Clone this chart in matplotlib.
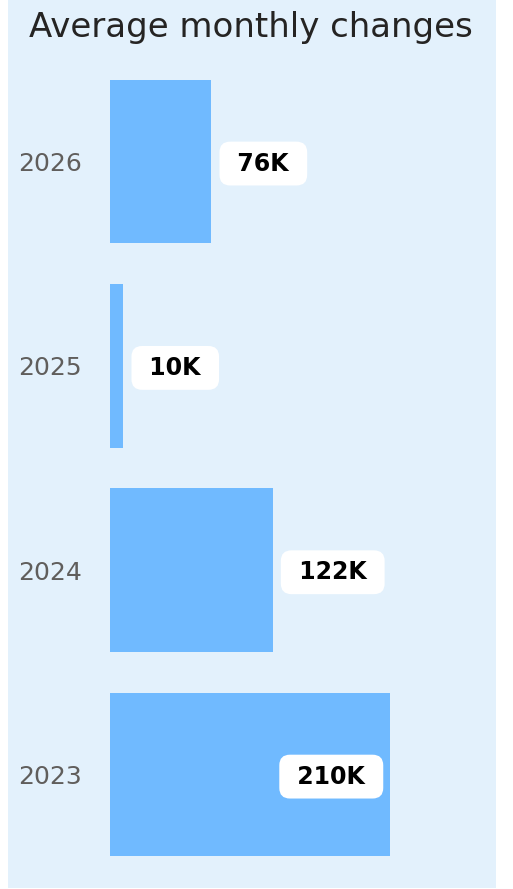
import matplotlib
matplotlib.use('Agg')
import matplotlib.pyplot as plt
from matplotlib.patches import Rectangle

years = ['2023', '2024', '2025', '2026']
changes_k = [210, 122, 10, 76]
labels = ['210K', '122K', '10K', '76K']

W, H = 513, 889
fig = plt.figure(figsize=(W / 100, H / 100), dpi=100)
fig.patch.set_facecolor('white')

# light blue card behind everything
card = Rectangle((8 / W, 1 - 888 / H), 488 / W, 888 / H,
                 transform=fig.transFigure, facecolor='#E3F1FC',
                 edgecolor='none', zorder=-10)
fig.add_artist(card)

fig.text(251 / W, 1 - 28 / H, 'Average monthly changes', ha='center', va='center',
         fontsize=24.5, color='#252423')

ax = fig.add_axes([110 / W, 1 - 876.7 / H, 380 / W, 817.4 / H])
ax.set_zorder(5)
ax.set_facecolor('none')
bars = ax.barh(range(len(years)), changes_k, height=0.8, color='#70BAFF')
xmax = 210 * 380 / 280
ax.set_xlim(0, xmax)
ax.set_ylim(-0.5, len(years) - 0.5)
ax.set_yticks(range(len(years)))
ax.set_yticklabels(years, fontsize=18, color='#605E5C')
ax.tick_params(axis='y', length=0, pad=20)
ax.set_xticks([])
for s in ax.spines.values():
    s.set_visible(False)

for i, (v, lab) in enumerate(zip(changes_k, labels)):
    box = dict(boxstyle='round,pad=0.42,rounding_size=0.45', fc='white', ec='none')
    if v > 180:
        ax.annotate(' ' + lab + ' ', (v, i), xytext=(-12, -1.5), textcoords='offset points',
                    ha='right', va='center', fontsize=17, fontweight='bold',
                    color='black', bbox=box)
    else:
        ax.annotate(' ' + lab + ' ', (v, i), xytext=(13, -1.5), textcoords='offset points',
                    ha='left', va='center', fontsize=17, fontweight='bold',
                    color='black', bbox=box)

plt.savefig('out.png', dpi=100)
